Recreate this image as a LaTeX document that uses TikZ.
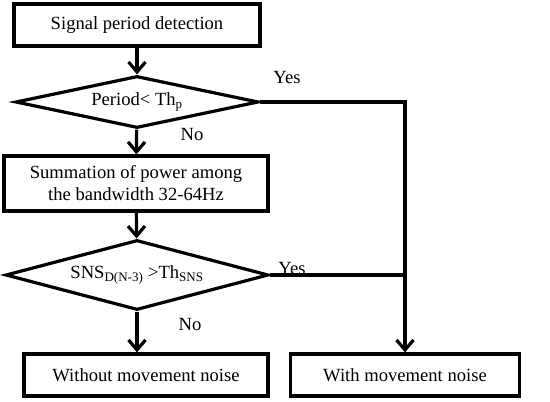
\documentclass[tikz,border=0pt]{standalone}
\usepackage{fontspec}
\setmainfont{Liberation Serif}
\usepackage{tikz}
\usetikzlibrary{arrows.meta,shapes.geometric}
\tikzset{
  fbox/.style={draw=black,fill=white,line width=3.2pt,align=center,inner sep=2pt},
  fdec/.style={draw=black,fill=white,line width=3.2pt,shape=diamond,aspect=4,inner sep=0pt},
  farr/.style={-{Straight Barb[length=10pt,width=17pt]},line width=3.2pt,draw=black},
  fline/.style={line width=3.2pt,draw=black}
}

\begin{document}
\begin{tikzpicture}[x=1pt,y=-1pt,font=\fontsize{18.6}{22}\selectfont]
  \useasboundingbox (0,0) rectangle (550,402);
  % boxes and decisions
  \node[fbox,minimum width=246pt,minimum height=42pt] (b1) at (137,25) {Signal period detection};
  \node[fdec,minimum width=243pt,minimum height=52pt] (d1) at (137,102) {Period< Th\textsubscript{p}};
  \node[fbox,minimum width=264pt,minimum height=55pt] (b2) at (136,183.5) {Summation of power among\\the bandwidth 32-64Hz};
  \node[fdec,minimum width=263pt,minimum height=70pt] (d2) at (137,275) {SNS\textsubscript{D(N-3)} >Th\textsubscript{SNS}};
  \node[fbox,minimum width=244pt,minimum height=42pt] (b3) at (146,375) {Without movement noise};
  \node[fbox,minimum width=229pt,minimum height=42pt] (b4) at (405,375) {With movement noise};
  % connectors
  \draw[farr] (b1) -- (d1);
  \draw[farr] (d1) -- (b2);
  \draw[farr] (b2) -- (d2);
  \draw[farr] (d2.south) -- (d2.south |- b3.north);
  \draw[farr] (d1.east) -| (b4.north);
  \draw[fline] (d2.east) -- (d2.east -| b4.north);
  % labels
  \node (y1) at (287,77) {Yes};
  \node (n1) at (192,134) {No};
  \node (y2) at (292,268) {Yes};
  \node (n2) at (190,324) {No};
\end{tikzpicture}
\end{document}
